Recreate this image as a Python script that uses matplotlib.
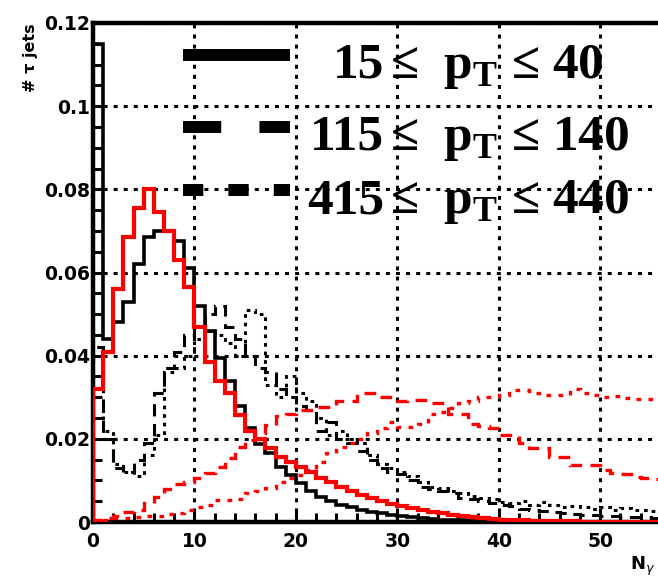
import numpy as np
import matplotlib.pyplot as plt
from matplotlib.ticker import MultipleLocator, FuncFormatter

# bin edges: 56 unit-wide bins starting at 0
edges = np.arange(0, 57)

# black histograms
black_15_40 = [0.115, 0.044, 0.048, 0.053, 0.062, 0.0685, 0.070, 0.070, 0.0675, 0.061,
               0.052, 0.046, 0.0395, 0.034, 0.028, 0.0226, 0.0188, 0.0166, 0.0132, 0.0113,
               0.0094, 0.0074, 0.006, 0.005, 0.0042, 0.0035, 0.003, 0.0025, 0.0021, 0.0017,
               0.0014, 0.0011, 0.0009, 0.0007, 0.0006, 0.0005, 0.0004, 0.0003, 0.0003, 0.0002,
               0.0002, 0.0001, 0.0001, 0.0001, 0.0001, 0.0001, 0.0, 0.0, 0.0, 0.0,
               0.0, 0.0, 0.0, 0.0, 0.0, 0.0]
black_115_140 = [0.042, 0.020, 0.013, 0.012, 0.015, 0.019, 0.031, 0.037, 0.041, 0.045,
                 0.047, 0.050, 0.052, 0.047, 0.044, 0.040, 0.037, 0.036, 0.032, 0.030,
                 0.028, 0.027, 0.022, 0.024, 0.020, 0.019, 0.017, 0.015, 0.013, 0.012,
                 0.0115, 0.010, 0.0085, 0.008, 0.0075, 0.007, 0.0058, 0.0055, 0.005, 0.0045,
                 0.0042, 0.0038, 0.0032, 0.003, 0.0026, 0.0024, 0.0021, 0.002, 0.0018, 0.0016,
                 0.0015, 0.0014, 0.0012, 0.0011, 0.0011, 0.001]
black_415_440 = [0.030, 0.022, 0.014, 0.012, 0.011, 0.016, 0.021, 0.036, 0.037, 0.040,
                 0.044, 0.046, 0.045, 0.043, 0.040, 0.051, 0.050, 0.033, 0.030, 0.035,
                 0.031, 0.029, 0.025, 0.021, 0.022, 0.020, 0.019, 0.016, 0.014, 0.013,
                 0.012, 0.011, 0.0095, 0.0085, 0.0082, 0.0075, 0.007, 0.0062, 0.0058, 0.0055,
                 0.0049, 0.0046, 0.005, 0.0042, 0.0048, 0.004, 0.0037, 0.0039, 0.0035, 0.0032,
                 0.0035, 0.003, 0.0033, 0.0028, 0.003, 0.0026]

# red histograms
red_solid = [0.032, 0.041, 0.056, 0.0685, 0.0755, 0.080, 0.0745, 0.070, 0.063, 0.0565,
             0.047, 0.0385, 0.034, 0.031, 0.0257, 0.022, 0.020, 0.0178, 0.0157, 0.0144,
             0.0132, 0.012, 0.0107, 0.0095, 0.0085, 0.0075, 0.0066, 0.0058, 0.005, 0.0043,
             0.0038, 0.0034, 0.003, 0.0025, 0.0021, 0.0017, 0.0014, 0.0011, 0.0009, 0.0007,
             0.0006, 0.0005, 0.0004, 0.0003, 0.0003, 0.0002, 0.0002, 0.0002, 0.0001, 0.0001,
             0.0001, 0.0001, 0.0001, 0.0, 0.0, 0.0]
red_dashed = [0.0005, 0.001, 0.0015, 0.0024, 0.003, 0.0045, 0.006, 0.008, 0.0092, 0.0095,
              0.0105, 0.0118, 0.0132, 0.0154, 0.018, 0.0197, 0.0214, 0.0233, 0.0255, 0.026,
              0.027, 0.027, 0.0277, 0.0277, 0.029, 0.029, 0.031, 0.031, 0.030, 0.030,
              0.029, 0.0293, 0.0293, 0.0286, 0.0286, 0.026, 0.026, 0.0235, 0.023, 0.0225,
              0.021, 0.021, 0.019, 0.0178, 0.0178, 0.0157, 0.0157, 0.0137, 0.0137, 0.0137,
              0.0125, 0.0118, 0.0115, 0.0108, 0.0106, 0.0104]
red_dotted = [0.0005, 0.0005, 0.001, 0.001, 0.0012, 0.0015, 0.0015, 0.002, 0.0022, 0.0028,
              0.0036, 0.004, 0.0053, 0.0053, 0.0055, 0.007, 0.0075, 0.0082, 0.0095, 0.0105,
              0.0113, 0.0125, 0.0144, 0.0166, 0.018, 0.019, 0.020, 0.0215, 0.0225, 0.024,
              0.0228, 0.0228, 0.0235, 0.026, 0.0265, 0.0275, 0.0286, 0.029, 0.030, 0.030,
              0.0305, 0.0317, 0.0317, 0.031, 0.0305, 0.0305, 0.0305, 0.032, 0.031, 0.0305,
              0.030, 0.0302, 0.0298, 0.0295, 0.0295, 0.029]

legend_nums = ['15', '115', '415']
legend_rest = ['≤  p$_\\mathregular{T}$ ≤ 40',
               '≤  p$_\\mathregular{T}$ ≤ 140',
               '≤  p$_\\mathregular{T}$ ≤ 440']

W, H = 658, 581
fig = plt.figure(figsize=(W / 100, H / 100), dpi=100)
ax = fig.add_axes([93 / W, 59 / H, (661 - 93) / W, 499 / H])

# histograms
ax.stairs(black_415_440, edges, color='black', lw=2.2, linestyle=(0, (1.2, 1.6)), zorder=3)
ax.stairs(black_115_140, edges, color='black', lw=2.2, linestyle=(0, (4, 2.5)), zorder=3)
ax.stairs(black_15_40, edges, color='black', lw=2.6, zorder=4)
ax.stairs(red_dotted, edges, color='red', lw=2.4, linestyle=(0, (1.4, 2.2)), zorder=5)
ax.stairs(red_dashed, edges, color='red', lw=2.4, linestyle=(0, (3.5, 2.5)), zorder=5)
ax.stairs(red_solid, edges, color='red', lw=3.0, zorder=6)

ax.set_xlim(0, 56)
ax.set_ylim(0, 0.12)

# ROOT-like frame, ticks, grid
for s in ax.spines.values():
    s.set_linewidth(3.2)
ax.xaxis.set_major_locator(MultipleLocator(10))
ax.xaxis.set_minor_locator(MultipleLocator(2))
ax.yaxis.set_major_locator(MultipleLocator(0.02))
ax.yaxis.set_minor_locator(MultipleLocator(0.005))
ax.yaxis.set_major_formatter(FuncFormatter(lambda v, p: f'{v:g}'))
ax.xaxis.set_major_formatter(FuncFormatter(lambda v, p: f'{v:g}'))
ax.tick_params(which='both', direction='in', width=2.2, top=False, right=False)
ax.tick_params(which='major', length=9)
ax.tick_params(which='minor', length=6.5)
ax.tick_params(axis='y', pad=2)
ax.tick_params(axis='x', pad=7)
for lab in ax.get_xticklabels() + ax.get_yticklabels():
    lab.set_fontweight('bold')
    lab.set_fontsize(13.5)
ax.grid(True, which='major', color='black', lw=2.2, linestyle=(0, (1.3, 2.0)), zorder=1)
ax.set_axisbelow(True)

ax.set_ylabel('# τ jets', fontsize=11.5, fontweight='bold', loc='top')
ax.yaxis.set_label_coords(-0.097, 1.0)
ax.set_xlabel(r'N$_\gamma$', fontsize=13, fontweight='bold', loc='right')
ax.xaxis.set_label_coords(0.99, -0.065)

# legend drawn by hand, ROOT style
leg_y = [0.1123, 0.095, 0.0798]
leg_txt_y = [0.1068, 0.0895, 0.0743]
leg_styles = ['-', (0, (3.2, 3.2)), (0, (1.7, 2.1))]
for y, ty, ls, num, rest in zip(leg_y, leg_txt_y, leg_styles, legend_nums, legend_rest):
    ax.plot([8.9, 19.4], [y, y], color='black', lw=8.6, linestyle=ls,
            solid_capstyle='butt', dash_capstyle='butt', zorder=7)
    ax.text(28.7, ty, num, fontsize=37, fontweight='bold', family='Liberation Serif',
            ha='right', va='baseline', zorder=8)
    ax.text(29.3, ty, rest, fontsize=37, fontweight='bold', family='Liberation Serif',
            ha='left', va='baseline', zorder=8)

fig.savefig('out.png', dpi=100)
